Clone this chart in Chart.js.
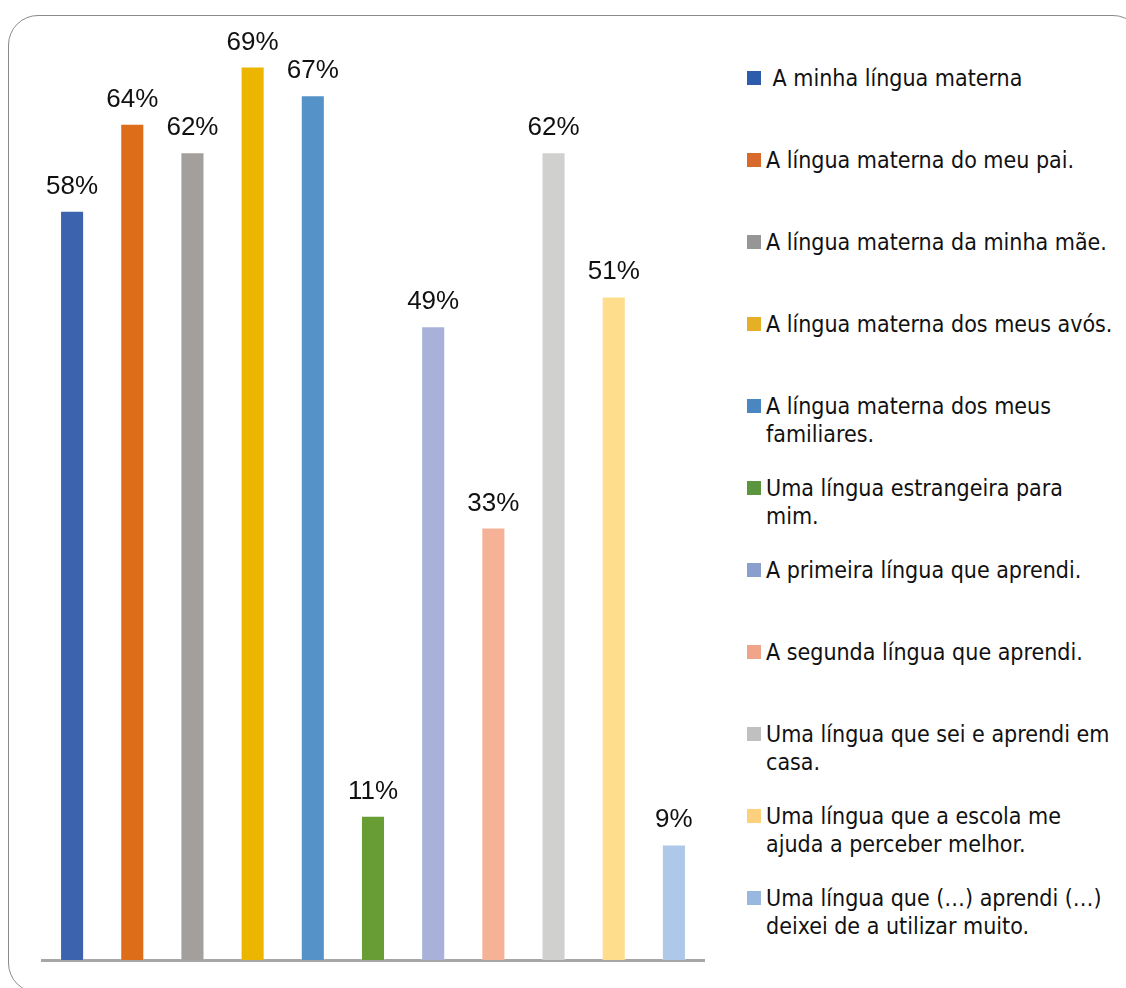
<!DOCTYPE html>
<html><head><meta charset="utf-8">
<script src="https://cdn.jsdelivr.net/npm/chart.js@4.4.1/dist/chart.umd.min.js"></script>
<style>
html,body{margin:0;padding:0;background:#fff;width:1126px;height:988px;overflow:hidden;}
#frame{position:absolute;left:8px;top:15px;width:1135px;height:978px;box-sizing:border-box;border:1.3px solid #8a8a8a;border-radius:30px;}
#c{position:absolute;left:0;top:0;}
#legend{position:absolute;left:747px;top:64px;font-family:"DejaVu Sans Condensed","DejaVu Sans";font-stretch:condensed;font-size:23px;color:#111;}
.item{position:relative;height:82px;}
.sw{position:absolute;left:0;top:7px;width:14px;height:14px;}
.tx{position:absolute;left:19px;top:0;line-height:28px;white-space:pre;}
</style></head><body>
<div id="frame"></div>
<canvas id="c" width="720" height="988"></canvas>
<div id="legend"></div>
<script>
const categories = [
  [" A minha língua materna"],
  ["A língua materna do meu pai."],
  ["A língua materna da minha mãe."],
  ["A língua materna dos meus avós."],
  ["A língua materna dos meus", "familiares."],
  ["Uma língua estrangeira para", "mim."],
  ["A primeira língua que aprendi."],
  ["A segunda língua que aprendi."],
  ["Uma língua que sei e aprendi em", "casa."],
  ["Uma língua que a escola me", "ajuda a perceber melhor."],
  ["Uma língua que (…) aprendi (…)", "deixei de a utilizar muito."]
];
// bar heights (labels show them rounded)
const values = [57.7, 64.4, 62.2, 68.8, 66.6, 11.1, 48.8, 33.3, 62.2, 51.1, 8.9];
const barColors = ["#3c64ae","#dd6d19","#a39f9d","#ecb600","#5592c8","#679d34","#a8b1da","#f5b297","#d0d0ce","#fedd8c","#adc8e8"];
const legendColors = ["#2e5cac","#d86a2b","#969696","#e5af26","#4a87c0","#5a963e","#8b9fce","#f0a58a","#c0c0c0","#fdd07e","#98b8df"];

const valueLabels = {
  id: 'valueLabels',
  afterDatasetsDraw(chart) {
    const ctx = chart.ctx;
    ctx.save();
    ctx.font = '26px "Liberation Sans"';
    ctx.fillStyle = '#111';
    ctx.textAlign = 'center';
    ctx.textBaseline = 'alphabetic';
    chart.getDatasetMeta(0).data.forEach((bar, i) => {
      ctx.fillText(Math.round(chart.data.datasets[0].data[i]) + '%', bar.x, bar.y - 17);
    });
    ctx.restore();
  }
};

const chart = new Chart(document.getElementById('c'), {
  type: 'bar',
  data: {
    labels: categories,
    datasets: [{
      data: values,
      backgroundColor: barColors,
      borderColor: 'rgba(255,255,255,0.35)',
      borderWidth: 1,
      borderSkipped: 'start',
      barPercentage: 0.4,
      categoryPercentage: 1
    }]
  },
  options: {
    responsive: false,
    devicePixelRatio: 1,
    animation: false,
    layout: { padding: { left: 42, right: 16, top: 51, bottom: 28 } },
    plugins: { legend: { display: false }, tooltip: { enabled: false } },
    scales: {
      x: {
        display: true,
        ticks: { display: false },
        grid: { display: false, drawTicks: false },
        border: { display: true, color: '#a6a6a6', width: 3 }
      },
      y: { display: false, min: 0, max: 70 }
    }
  },
  plugins: [valueLabels]
});

const legend = document.getElementById('legend');
chart.data.labels.forEach((lab, i) => {
  const item = document.createElement('div');
  item.className = 'item';
  const sw = document.createElement('div');
  sw.className = 'sw';
  sw.style.background = legendColors[i];
  const tx = document.createElement('div');
  tx.className = 'tx';
  tx.textContent = lab.join('\n');
  item.appendChild(sw);
  item.appendChild(tx);
  legend.appendChild(item);
});
</script>
</body></html>
